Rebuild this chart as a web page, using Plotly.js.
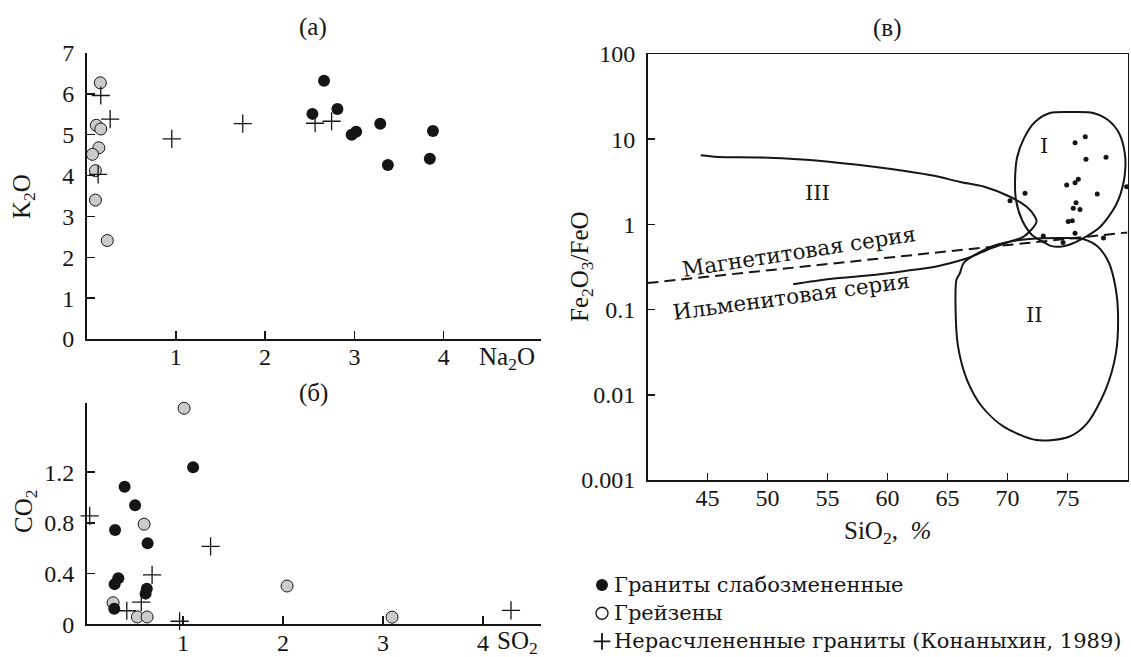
<!DOCTYPE html>
<html><head><meta charset="utf-8">
<script src="https://cdn.plot.ly/plotly-3.0.1.min.js"></script>
<style>html,body{margin:0;padding:0;background:#fff}#chart{width:1131px;height:657px}</style>
</head><body><div id="chart"></div>
<script>
// ---------- (а) K2O vs Na2O ----------
const aGraniteNa = [2.66, 2.53, 2.81, 2.97, 3.02, 3.29, 3.88, 3.375, 3.845];
const aGraniteK  = [6.32, 5.51, 5.63, 5.00, 5.07, 5.27, 5.09, 4.26, 4.41];
const aGreisenNa = [0.155, 0.11, 0.16, 0.138, 0.067, 0.10, 0.10, 0.233];
const aGreisenK  = [6.27, 5.23, 5.14, 4.68, 4.52, 4.12, 3.40, 2.41];
const aUndivNa   = [0.16, 0.265, 0.13, 0.955, 1.75, 2.56, 2.745];
const aUndivK    = [5.96, 5.38, 4.03, 4.90, 5.27, 5.28, 5.33];
const aXTicks = [1, 2, 3, 4];
const aYTicks = [0, 1, 2, 3, 4, 5, 6, 7];

// ---------- (б) CO2 vs SO2 ----------
const bGraniteS = [1.10, 0.415, 0.52, 0.32, 0.645, 0.352, 0.315, 0.637, 0.625, 0.312];
const bGraniteC = [1.24, 1.086, 0.94, 0.744, 0.64, 0.364, 0.317, 0.281, 0.242, 0.122];
const bGreisenS = [1.01, 0.61, 2.04, 0.30, 0.543, 0.64, 3.09];
const bGreisenC = [1.705, 0.79, 0.302, 0.17, 0.058, 0.058, 0.056];
const bUndivS   = [0.066, 1.275, 0.69, 0.582, 0.437, 0.965, 4.28];
const bUndivC   = [0.855, 0.615, 0.39, 0.175, 0.107, 0.024, 0.11];
const bXTicks = [1, 2, 3, 4];
const bYTicks = [0, 0.4, 0.8, 1.2];
const bYTickText = ['0', '0.4', '0.8', '1.2'];

// ---------- (в) Fe2O3/FeO vs SiO2 ----------
const cDotsSi  = [75.63, 76.48, 76.54, 78.21, 74.93, 75.63, 75.9, 77.48, 71.46, 70.21, 75.71, 75.48, 76.04, 75.06, 75.4, 75.63, 72.98, 79.93, 74.63, 78.0];
const cDotsFe  = [9.10, 10.7, 5.81, 6.13, 2.90, 3.08, 3.38, 2.28, 2.32, 1.90, 1.80, 1.55, 1.50, 1.08, 1.10, 0.787, 0.731, 2.77, 0.614, 0.692];
// field I contour
const fieldISi = [73.54, 75.63, 77.13, 78.38, 79.29, 79.79, 79.71, 79.04, 77.71, 76.21, 75.2, 74.38, 73.6, 73.13, 72.04, 71.21, 70.71, 70.63, 70.79, 71.38, 72.29, 73.54];
const fieldIFe = [20.3, 20.8, 20.3, 16.8, 11.8, 6.53, 3.32, 1.69, 0.933, 0.675, 0.58, 0.548, 0.56, 0.605, 0.751, 1.127, 1.93, 3.32, 6.01, 10.3, 15.9, 20.3];
// field II contour
const fieldIISi = [73.01, 74.79, 76.34, 77.54, 78.46, 79.04, 79.21, 79.04, 78.17, 76.63, 75.13, 72.41, 69.68, 67.88, 66.63, 65.88, 65.68, 65.74, 66.04, 66.34, 67.54, 69.04, 71.04, 73.01];
const fieldIIFe = [0.687, 0.692, 0.668, 0.547, 0.352, 0.170, 0.091, 0.031, 0.0114, 0.00462, 0.00322, 0.00294, 0.00423, 0.00724, 0.0149, 0.0367, 0.0912, 0.222, 0.269, 0.352, 0.461, 0.573, 0.656, 0.687];
// field III boundary (upper line, loop, ilmenite-series line)
const fieldIIISi = [44.43, 45.83, 49.38, 52.84, 56.04, 59.02, 61.46, 63.78, 66.04, 68.0, 70.21, 71.6, 72.29, 72.42, 72.04, 71.29, 70.21, 68.29, 67.43, 66.31, 64.07, 61.46, 59.02, 55.21, 52.14];
const fieldIIIFe = [6.47, 6.19, 6.10, 5.76, 5.26, 4.72, 4.24, 3.75, 3.15, 2.78, 2.11, 1.61, 1.23, 1.07, 0.883, 0.711, 0.627, 0.501, 0.443, 0.387, 0.321, 0.284, 0.256, 0.229, 0.199];
// magnetite / ilmenite divide
const dividerSi = [40, 80];
const dividerFe = [0.205, 0.805];
const cXTicks = [45, 50, 55, 60, 65, 70, 75];
const cYTicks = [0.001, 0.01, 0.1, 1, 10, 100];
const cYTickText = ['0.001', '0.01', '0.1', '1', '10', '100'];

const legendLabels = ['Граниты слабозмененные', 'Грейзены', 'Нерасчлененные граниты (Конаныхин, 1989)'];

const SERIF = 'Liberation Serif';
const WIDE = 'DejaVu Serif';
const INK = '#151515';
const GREY = '#cbcbcb';
const W = 1131, H = 657;
const px = v => v / W, py = v => 1 - v / H;

function axis(extra) {
  return Object.assign({
    showgrid: false, zeroline: false, showline: true, linecolor: INK, linewidth: 1.5,
    ticks: 'inside', ticklen: 8, tickwidth: 1.5, tickcolor: INK,
    tickfont: {family: SERIF, size: 24, color: INK}, fixedrange: true, tickmode: 'array'
  }, extra);
}

const granite = {color: INK, size: 12, line: {width: 0}};
const greisen = {color: GREY, size: 12, line: {color: INK, width: 1}};
const undiv = {symbol: 'cross-thin', color: INK, size: 13, line: {color: INK, width: 1.3}};
const legendMarkers = [granite, {color: '#fff', size: 12, line: {color: INK, width: 1.3}}, {symbol: 'cross-thin', color: INK, size: 12, line: {color: INK, width: 1.8}}];

const traces = [
  {x: aGreisenNa, y: aGreisenK, xaxis: 'x', yaxis: 'y', mode: 'markers', marker: greisen, cliponaxis: false},
  {x: aUndivNa, y: aUndivK, xaxis: 'x', yaxis: 'y', mode: 'markers', marker: undiv, cliponaxis: false},
  {x: aGraniteNa, y: aGraniteK, xaxis: 'x', yaxis: 'y', mode: 'markers', marker: granite, cliponaxis: false},

  {x: bGreisenS, y: bGreisenC, xaxis: 'x2', yaxis: 'y2', mode: 'markers', marker: greisen, cliponaxis: false},
  {x: bGraniteS, y: bGraniteC, xaxis: 'x2', yaxis: 'y2', mode: 'markers', marker: granite, cliponaxis: false},
  {x: bUndivS, y: bUndivC, xaxis: 'x2', yaxis: 'y2', mode: 'markers', marker: undiv, cliponaxis: false},

  {x: dividerSi, y: dividerFe, xaxis: 'x3', yaxis: 'y3', mode: 'lines', line: {color: INK, width: 2, dash: '11px,6px'}},
  {x: fieldIIISi, y: fieldIIIFe, xaxis: 'x3', yaxis: 'y3', mode: 'lines', line: {color: INK, width: 2, shape: 'spline', smoothing: 0.8}},
  {x: fieldISi, y: fieldIFe, xaxis: 'x3', yaxis: 'y3', mode: 'lines', line: {color: INK, width: 2, shape: 'spline', smoothing: 0.8}},
  {x: fieldIISi, y: fieldIIFe, xaxis: 'x3', yaxis: 'y3', mode: 'lines', line: {color: INK, width: 2, shape: 'spline', smoothing: 0.8}},
  {x: cDotsSi, y: cDotsFe, xaxis: 'x3', yaxis: 'y3', mode: 'markers', marker: {color: INK, size: 5}, cliponaxis: false}
];
// legend key markers, one row per label (hidden helper axes)
legendLabels.forEach((lab, i) => {
  traces.push({x: [0.5], y: [legendLabels.length - i - 0.5], xaxis: 'x4', yaxis: 'y4', mode: 'markers',
    marker: legendMarkers[i], cliponaxis: false, name: lab});
});

const txt = (fam, size, extra) => Object.assign({showarrow: false, xanchor: 'center', yanchor: 'middle',
  font: {family: fam, size: size, color: INK}}, extra);

const annotations = [
  txt(SERIF, 25, {text: '(а)', xref: 'paper', yref: 'paper', x: px(313), y: py(27)}),
  txt(SERIF, 25, {text: '(б)', xref: 'paper', yref: 'paper', x: px(313), y: py(393)}),
  txt(SERIF, 25, {text: '(в)', xref: 'paper', yref: 'paper', x: px(887), y: py(28)}),
  txt(SERIF, 25, {text: 'K<sub>2</sub>O', xref: 'paper', yref: 'paper', x: px(23), y: py(197), textangle: -90}),
  txt(SERIF, 25, {text: 'CO<sub>2</sub>', xref: 'paper', yref: 'paper', x: px(25), y: py(512), textangle: -90}),
  txt(SERIF, 25, {text: 'Fe<sub>2</sub>O<sub>3</sub>/FeO', xref: 'paper', yref: 'paper', x: px(582), y: py(267), textangle: -90}),
  txt(SERIF, 25, {text: 'Na<sub>2</sub>O', xref: 'x', yref: 'paper', x: 4.71, y: py(358)}),
  txt(SERIF, 25, {text: 'SO<sub>2</sub>', xref: 'x2', yref: 'paper', x: 4.34, y: py(642)}),
  txt(SERIF, 25, {text: 'SiO<sub>2</sub>,  <i>%</i>', xref: 'paper', yref: 'paper', x: px(887), y: py(532)}),
  txt(WIDE, 21, {text: 'I', xref: 'x3', yref: 'y3', x: 73.04, y: Math.log10(8.3)}),
  txt(WIDE, 21, {text: 'II', xref: 'x3', yref: 'y3', x: 72.25, y: Math.log10(0.0865)}),
  txt(WIDE, 21, {text: 'III', xref: 'x3', yref: 'y3', x: 54.2, y: Math.log10(2.32)}),
  txt(WIDE, 21.5, {text: 'Магнетитовая серия', xref: 'x3', yref: 'y3', x: 52.6, y: Math.log10(0.478), textangle: -8.8}),
  txt(WIDE, 21.5, {text: 'Ильменитовая серия', xref: 'x3', yref: 'y3', x: 51.96, y: Math.log10(0.1406), textangle: -7.8})
];
legendLabels.forEach((lab, i) => {
  annotations.push(txt(WIDE, 21, {text: lab, xref: 'paper', yref: 'y4', x: px(612), y: legendLabels.length - i - 0.5, xanchor: 'left'}));
});

const hidden = {visible: false, fixedrange: true, showgrid: false, zeroline: false};
const layout = {
  width: W, height: H, margin: {l: 0, r: 0, t: 0, b: 0},
  paper_bgcolor: '#fff', plot_bgcolor: 'rgba(0,0,0,0)', showlegend: false,
  font: {family: SERIF, color: INK},
  xaxis: axis({domain: [px(86.5), px(541)], range: [0, 5.09], tickvals: aXTicks, anchor: 'y', ticklabelstandoff: -4}),
  yaxis: axis({domain: [py(339), py(53)], range: [0, 7], tickvals: aYTicks, anchor: 'x', ticklabelstandoff: 6}),
  xaxis2: axis({domain: [px(86.5), px(541)], range: [0.034, 4.58], tickvals: bXTicks, anchor: 'y2', ticklabelstandoff: -4}),
  yaxis2: axis({domain: [py(624.3), py(403.3)], range: [0, 1.744], tickvals: bYTicks, ticktext: bYTickText, anchor: 'x2', ticklabelstandoff: 6}),
  xaxis3: axis({domain: [px(647.5), px(1127.5)], range: [40, 80], tickvals: cXTicks, anchor: 'y3', mirror: true, ticklen: 7, ticklabelstandoff: -4}),
  yaxis3: axis({domain: [py(480), py(54)], type: 'log', range: [-3, 2], tickvals: cYTicks, ticktext: cYTickText, anchor: 'x3', mirror: true, ticklen: 7, ticklabelstandoff: 6}),
  xaxis4: Object.assign({domain: [px(592), px(612)], range: [0, 1], anchor: 'y4'}, hidden),
  yaxis4: Object.assign({domain: [py(655.5), py(571)], range: [0, 3], anchor: 'x4'}, hidden),
  annotations: annotations
};

Plotly.newPlot('chart', traces, layout, {staticPlot: true, displayModeBar: false});
</script>
</body></html>
